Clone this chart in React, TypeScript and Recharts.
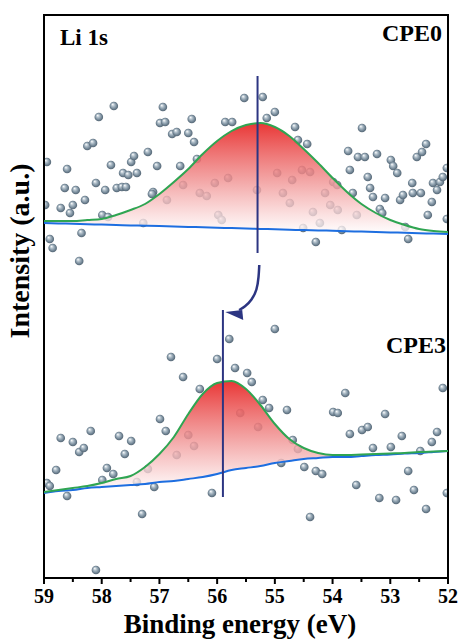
import { ComposedChart, XAxis, YAxis, Scatter, Area, Line, ReferenceLine, ReferenceArea, ReferenceDot } from "recharts"

// binding energy grid of the fitted curves (eV)
const fitEnergy = [59, 58.75, 58.5, 58.25, 58, 57.75, 57.5, 57.25, 57, 56.75, 56.5, 56.25, 56, 55.75, 55.5, 55.25, 55, 54.75, 54.5, 54.25, 54, 53.75, 53.5, 53.25, 53, 52.75, 52.5, 52.25, 52]

const cpe0Fit = [357, 357, 357, 358, 359, 363, 368, 374, 384, 396, 409, 424, 437, 447, 453, 455, 451, 442, 429, 415, 400, 386, 374, 365, 358, 353, 349, 347, 346]
const cpe0Background = [355, 354.6, 354.2, 353.8, 353.4, 353, 352.6, 352.3, 351.9, 351.5, 351.1, 350.7, 350.3, 349.9, 349.5, 349.1, 348.7, 348.3, 347.9, 347.6, 347.2, 346.8, 346.4, 346, 345.6, 345.2, 344.8, 344.4, 344]

const cpe3Fit = [86, 88, 90, 92, 95, 99, 102, 111, 124, 141, 164, 184, 195, 197, 189, 173, 154, 139, 130, 125, 123, 123, 123.5, 124, 124.5, 125, 126, 126.5, 127]
const cpe3Background = [85, 87, 88, 90, 91, 92, 93, 94, 96, 97, 99, 101, 104, 108, 110, 112, 115, 117, 119, 120, 121, 121, 122, 123, 123.5, 124.5, 125, 126, 127]

// raw counts [eV, intensity]
const cpe0Points = [
  [58.95, 416], [58.98, 373], [58.9, 339], [58.85, 330], [58.39, 317], [58.35, 345], [58.71, 370], [58.55, 365],
  [58.5, 373], [58.29, 378], [58.64, 390], [58.45, 388], [58.6, 409], [58.25, 432], [58.15, 435], [58.05, 461],
  [57.79, 472], [58.1, 395], [57.94, 388], [57.84, 413], [57.74, 390], [57.65, 391], [57.58, 391], [57.63, 405],
  [57.54, 403], [57.39, 405], [57.49, 416], [57.44, 422], [57.2, 426], [57.04, 412], [57.99, 363], [57.89, 361],
  [56.94, 471], [56.99, 455], [56.9, 456], [56.78, 444], [56.7, 446], [56.5, 445], [56.44, 459], [56.4, 436],
  [56.64, 412], [57.11, 386], [57.13, 384], [56.35, 419], [55.86, 456], [55.74, 456], [55.53, 480], [55.21, 481],
  [55.14, 460], [55.0, 466], [54.65, 451], [54.6, 438], [54.44, 434], [54.29, 336], [53.99, 396], [53.92, 393],
  [53.49, 450], [53.73, 427], [53.7, 408], [53.56, 421], [53.44, 421], [53.65, 385], [53.39, 401], [53.23, 424],
  [53.35, 390], [53.3, 381], [53.09, 380], [53.18, 369], [53.14, 365], [52.99, 418], [52.95, 412], [52.88, 405],
  [52.83, 378], [52.78, 383], [52.62, 395], [52.61, 385], [52.47, 385], [52.54, 421], [52.45, 426], [52.38, 434],
  [52.28, 376], [52.35, 363], [52.69, 339], [52.26, 395], [52.19, 388], [52.14, 396], [52.09, 401], [52.02, 410],
  [52.02, 359], [56.3, 385], [56.18, 382], [55.98, 363], [55.92, 358], [56.87, 378], [57.28, 355], [56.59, 393],
  [56.04, 395], [55.81, 400], [55.31, 388], [54.96, 405], [54.86, 385], [54.74, 375], [54.7, 398], [54.53, 408],
  [54.39, 406], [54.34, 366], [54.13, 385], [54.04, 373], [53.91, 368], [54.51, 350], [53.84, 348], [54.22, 355],
  [53.58, 363], [52.74, 351],
]

const cpe3Points = [
  [58.95, 95], [58.9, 92], [58.79, 108], [58.71, 140], [58.6, 82], [58.5, 136], [58.39, 126], [58.31, 130],
  [58.19, 147], [58.1, 8], [57.99, 98], [57.91, 110], [57.8, 104], [57.7, 142], [57.6, 124], [57.49, 137],
  [57.39, 96], [57.3, 64], [57.2, 109], [57.09, 91], [56.99, 159], [56.89, 147], [56.8, 221], [56.7, 123],
  [56.59, 201], [56.5, 143], [56.4, 132], [56.3, 189], [56.09, 85], [56.0, 219], [55.79, 239], [55.69, 210],
  [55.6, 165], [55.48, 205], [55.4, 196], [55.29, 151], [55.21, 178], [55.1, 170], [55.0, 249], [54.89, 115],
  [54.79, 168], [54.69, 138], [54.6, 129], [54.49, 111], [54.39, 61], [54.29, 107], [54.18, 104], [53.99, 166],
  [53.91, 165], [53.78, 185], [53.7, 144], [53.59, 93], [53.49, 148], [53.39, 151], [53.3, 130], [53.19, 80],
  [53.09, 164], [52.99, 131], [52.9, 78], [52.8, 142], [52.69, 107], [52.59, 88], [52.48, 127], [52.38, 69],
  [52.28, 136], [52.19, 146], [52.09, 190], [52.02, 85],
]

const energyTicks = [59, 58.5, 58, 57.5, 57, 56.5, 56, 55.5, 55, 54.5, 54, 53.5, 53, 52.5, 52]

// peak positions and shift arrow
const cpe0Peak = 55.3
const cpe3Peak = 55.9
const arrowEnergy = [55.27, 55.28, 55.31, 55.4, 55.52, 55.62]
const arrowIntensity = [313, 301, 288, 278, 271, 268]

const fitRows = (fit: number[], bg: number[]) =>
  fitEnergy.map((x, i) => ({ x, fit: fit[i], bg: bg[i], band: [bg[i], fit[i]] }))
const pointRows = (pts: number[][]) => pts.map(([x, y]) => ({ x, y }))

const cpe0Rows = fitRows(cpe0Fit, cpe0Background)
const cpe3Rows = fitRows(cpe3Fit, cpe3Background)
const arrowRows = arrowEnergy.map((x, i) => ({ x, y: arrowIntensity[i] }))

const W = 461
const H = 642
const FONT = "'Liberation Serif', 'Times New Roman', serif"
const NAVY = "#2c3582"
const GREEN = "#2fa552"
const BLUE = "#1d6ee0"

const Sphere = (props: any) => {
  const { cx, cy } = props
  if (cx == null || cy == null) return null
  return <circle cx={cx} cy={cy} r={4.3} fill="url(#sphereFill)" />
}

const ArrowHead = (props: any) => {
  const { cx, cy } = props
  return <path d={`M${cx},${cy} L${cx + 17},${cy - 2} L${cx + 18},${cy + 8} Z`} fill={NAVY} />
}

const EnergyTick = (props: any) => {
  const { x, y, payload } = props
  const major = Number.isInteger(payload.value)
  return (
    <g>
      <line x1={x} x2={x} y1={y} y2={y + (major ? 6 : 4)} stroke="#000" strokeWidth={2} />
      {major && (
        <text x={x} y={y + 25} textAnchor="middle" fontFamily={FONT} fontWeight="bold" fontSize={20} fill="#000">
          {payload.value}
        </text>
      )}
    </g>
  )
}

const layer = { position: "absolute" as const, left: 0, top: 0 }

export default function App() {
  return (
    <div style={{ ...layer, width: W, height: H, background: "#fff" }}>
      {/* raw points underneath, so the peak fill fades them */}
      <div style={layer}>
        <ComposedChart width={W} height={H} margin={{ top: 15, right: 13, left: 44, bottom: 64 }}>
          <defs>
            <radialGradient id="sphereFill" cx="50%" cy="50%" r="55%" fx="35%" fy="30%">
              <stop offset="0%" stopColor="#ffffff" />
              <stop offset="35%" stopColor="#aebdc8" />
              <stop offset="75%" stopColor="#6b7f8f" />
              <stop offset="100%" stopColor="#4a5966" />
            </radialGradient>
          </defs>
          <XAxis dataKey="x" type="number" domain={[52, 59]} reversed allowDataOverflow hide />
          <YAxis type="number" domain={[0, 563]} hide allowDataOverflow />
          <Scatter data={pointRows(cpe0Points)} dataKey="y" shape={Sphere} isAnimationActive={false} />
          <Scatter data={pointRows(cpe3Points)} dataKey="y" shape={Sphere} isAnimationActive={false} />
        </ComposedChart>
      </div>

      <div style={layer}>
        <ComposedChart width={W} height={H} margin={{ top: 15, right: 13, left: 44, bottom: 0 }}>
          <defs>
            <linearGradient id="peakFill" x1="0" y1="0" x2="0" y2="1">
              <stop offset="0%" stopColor="#e8302f" stopOpacity={0.97} />
              <stop offset="50%" stopColor="#f08e8e" stopOpacity={0.82} />
              <stop offset="100%" stopColor="#ffffff" stopOpacity={0.75} />
            </linearGradient>
          </defs>
          <XAxis
            dataKey="x"
            type="number"
            domain={[52, 59]}
            reversed
            allowDataOverflow
            ticks={energyTicks}
            interval={0}
            tickLine={false}
            tickSize={0}
            tickMargin={0}
            height={64}
            axisLine={{ stroke: "#000", strokeWidth: 2 }}
            tick={(p: any) => <EnergyTick {...p} />}
          />
          <YAxis type="number" domain={[0, 563]} hide allowDataOverflow />
          <ReferenceArea x1={52} x2={59} y1={0} y2={563} fill="none" stroke="#000" strokeWidth={2} ifOverflow="visible" />

          <Area data={cpe0Rows} dataKey="band" type="monotone" stroke="none" fill="url(#peakFill)" fillOpacity={1} isAnimationActive={false} />
          <Area data={cpe3Rows} dataKey="band" type="monotone" stroke="none" fill="url(#peakFill)" fillOpacity={1} isAnimationActive={false} />

          <Line data={cpe0Rows} dataKey="bg" type="monotone" stroke={BLUE} strokeWidth={2} dot={false} isAnimationActive={false} />
          <Line data={cpe0Rows} dataKey="fit" type="monotone" stroke={GREEN} strokeWidth={2} dot={false} isAnimationActive={false} />
          <Line data={cpe3Rows} dataKey="bg" type="monotone" stroke={BLUE} strokeWidth={2} dot={false} isAnimationActive={false} />
          <Line data={cpe3Rows} dataKey="fit" type="monotone" stroke={GREEN} strokeWidth={2} dot={false} isAnimationActive={false} />

          <ReferenceLine segment={[{ x: cpe0Peak, y: 502 }, { x: cpe0Peak, y: 325 }]} stroke={NAVY} strokeWidth={2} />
          <ReferenceLine segment={[{ x: cpe3Peak, y: 268 }, { x: cpe3Peak, y: 81 }]} stroke={NAVY} strokeWidth={2} />
          <Line data={arrowRows} dataKey="y" type="basis" stroke={NAVY} strokeWidth={2.5} dot={false} isAnimationActive={false} />
          <ReferenceDot x={55.86} y={266} r={0} shape={ArrowHead} />
        </ComposedChart>
      </div>

      <svg width={W} height={H} style={{ ...layer, pointerEvents: "none" }}>
        <g fontFamily={FONT} fontWeight="bold" fill="#000">
          <text x={60} y={45} fontSize={23}>Li 1s</text>
          <text x={442} y={41} fontSize={24} textAnchor="end">CPE0</text>
          <text x={446} y={353} fontSize={24} textAnchor="end">CPE3</text>
          <text x={240} y={633} fontSize={27} textAnchor="middle">Binding energy (eV)</text>
          <text transform="translate(29,251) rotate(-90)" fontSize={28} textAnchor="middle">Intensity (a.u.)</text>
        </g>
      </svg>
    </div>
  )
}
